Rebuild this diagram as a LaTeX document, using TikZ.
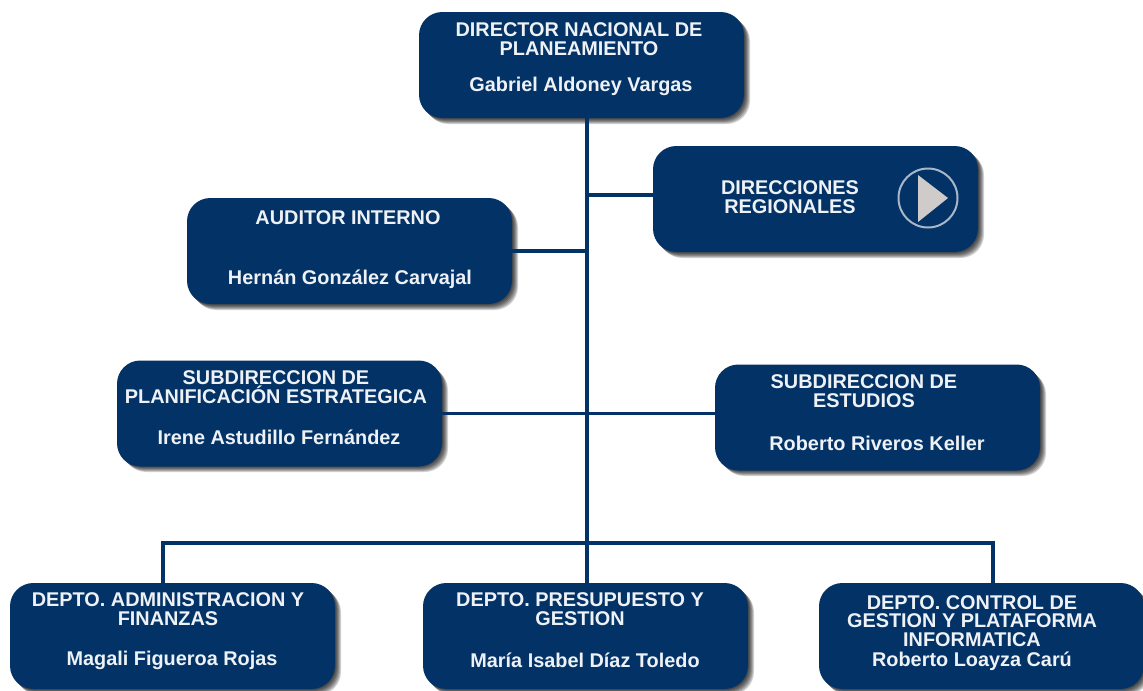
\documentclass[tikz,border=0pt]{standalone}
\usepackage{fontspec}
\setmainfont{Liberation Sans}
\definecolor{navy}{HTML}{033366}
\definecolor{softwhite}{HTML}{EEF1F5}
\definecolor{playgrey}{HTML}{CFCBCB}
\tikzset{
  x=0.75pt,y=-0.75pt,
  orgbox/.style={fill=navy,draw=none,rounded corners=17.5,minimum width=243.75pt,minimum height=79.5pt,inner sep=0pt,outer sep=0pt},
  label/.style={text=softwhite,font=\bfseries\fontsize{14.9}{14}\selectfont,align=center,inner sep=0pt},
  link/.style={draw=navy,line width=2.6pt},
  shade0/.style={fill=black,opacity=0.18,rounded corners=17.5,draw=none},
}
\newcommand{\softshadow}[4]{% x1 y1 x2 y2
  \foreach \d in {1,2,3,4,5,6}{
    \fill[shade0] ({#1+\d},{#2+\d}) rectangle ({#3+\d},{#4+\d});
  }
}
\begin{document}
\begin{tikzpicture}
\useasboundingbox (0,0) rectangle (1143,690);
\fill[white] (0,0) rectangle (1143,690);
\softshadow{419}{12}{744}{118}
\softshadow{653}{146}{978}{252}
\softshadow{187}{198}{512}{304}
\softshadow{117}{361}{442}{466}
\softshadow{715}{365}{1040}{470}
\softshadow{10}{583}{335}{689}
\softshadow{423}{583}{748}{689}
\softshadow{819}{583}{1144}{689}
\coordinate (trunk) at (587,300);
\coordinate (bus) at (587,543);
\coordinate (regjoin) at (653,195);
\coordinate (admtop) at (163,583);
\coordinate (ctltop) at (993,583);
\node[orgbox] (dir) at (581.5,65) {};
\node[orgbox] (reg) at (815.5,199) {};
\node[orgbox] (aud) at (349.5,251) {};
\node[orgbox] (plan) at (279.5,413.5) {};
\node[orgbox] (est) at (877.5,417.5) {};
\node[orgbox] (adm) at (172.5,636) {};
\node[orgbox] (pres) at (585.5,636) {};
\node[orgbox] (ctl) at (981.5,636) {};
\draw[link] (trunk |- dir.south) -- (trunk |- pres.north);
\draw[link] (trunk |- regjoin) -- (regjoin);
\draw[link] (aud.east) -- (aud.east -| trunk);
\draw[link] (plan.east) -- (plan.east -| est.west);
\draw[link,line cap=rect] (admtop) -- (admtop |- bus) -- (ctltop |- bus) -- (ctltop);
\node[label] (t1) at (579,39) {DIRECTOR NACIONAL DE\\PLANEAMIENTO};
\node[label] (n1) at (581,86) {Gabriel Aldoney Vargas};
\node[label] (t2) at (790,197) {DIRECCIONES\\REGIONALES};
\draw[softwhite!70!navy,line width=1.5pt] (928,198) circle (29.5);
\fill[playgrey] (918,175) -- (948,198) -- (918,222) -- cycle;
\node[label] (t3) at (348,218) {AUDITOR INTERNO};
\node[label] (n3) at (350,279) {Hernán González Carvajal};
\node[label] (t4) at (276,387) {SUBDIRECCION DE\\PLANIFICACIÓN ESTRATEGICA};
\node[label] (n4) at (279,437) {Irene Astudillo Fernández};
\node[label] (t5) at (864,391) {SUBDIRECCION DE\\ESTUDIOS};
\node[label] (n5) at (877,443) {Roberto Riveros Keller};
\node[label] (t6) at (168,609) {DEPTO. ADMINISTRACION Y\\FINANZAS};
\node[label] (n6) at (172,660) {Magali Figueroa Rojas};
\node[label] (t7) at (580,609) {DEPTO. PRESUPUESTO Y\\GESTION};
\node[label] (n7) at (585,660) {María Isabel Díaz Toledo};
\node[label] (t8) at (972,621) {DEPTO. CONTROL DE\\GESTION Y PLATAFORMA\\INFORMATICA};
\node[label] (n8) at (972,661) {Roberto Loayza Carú};
\end{tikzpicture}
\end{document}
